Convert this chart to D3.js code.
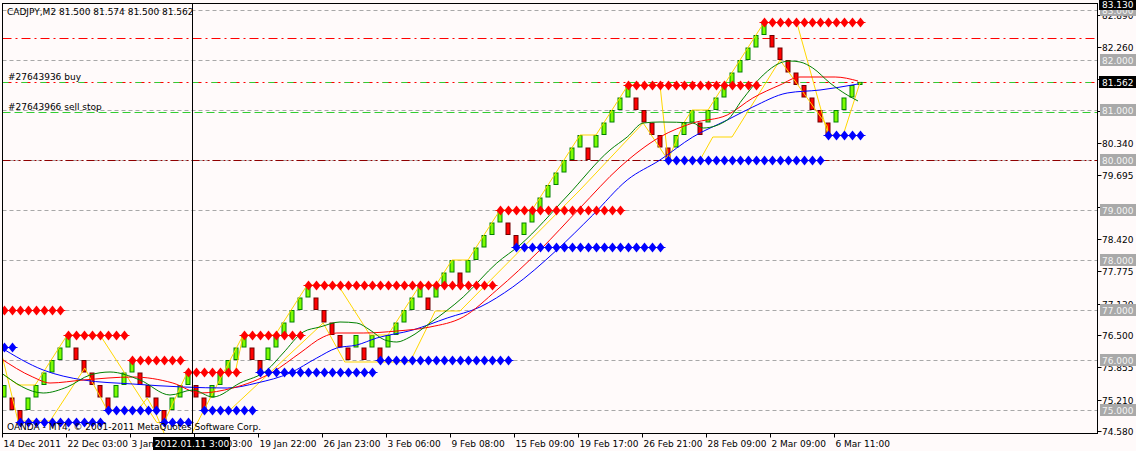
<!DOCTYPE html>
<html>
<head>
<meta charset="utf-8">
<script src="https://cdn.jsdelivr.net/npm/d3@7"></script>
<style>
html, body { margin: 0; padding: 0; background: #fffafa; }
svg { display: block; }
text { font-family: "DejaVu Sans", sans-serif; font-size: 9px; }
</style>
</head>
<body>
<svg id="chart" width="1136" height="451"></svg>
<script>
// CADJPY,M2 offline (renko style) chart, boxes of 0.25

// bar open / close, one box per bar
var barOpen = [
  75.25,75.25,75.00,75.00,75.25,75.50,75.75,76.00,76.25,76.25,
  76.00,75.75,75.50,75.25,75.25,75.50,75.75,75.75,75.50,75.25,
  75.00,75.00,75.25,75.50,75.50,75.25,75.25,75.50,75.75,76.00,
  76.25,76.25,76.00,76.00,76.25,76.50,76.75,77.00,77.25,77.25,
  77.00,76.75,76.50,76.25,76.25,76.25,76.25,76.25,76.25,76.50,
  76.75,77.00,77.25,77.25,77.25,77.50,77.75,77.75,77.75,78.00,
  78.25,78.50,78.75,78.75,78.50,78.50,78.75,79.00,79.25,79.50,
  79.75,80.00,80.25,80.25,80.25,80.50,80.75,81.00,81.25,81.25,
  81.00,80.75,80.50,80.25,80.25,80.50,80.75,80.75,80.75,81.00,
  81.25,81.50,81.75,82.00,82.25,82.50,82.50,82.25,82.00,81.75,
  81.50,81.25,81.00,80.75,80.75,81.00,81.25,81.50
];
var barClose = [
  75.50,75.00,74.75,75.25,75.50,75.75,76.00,76.25,76.50,76.00,
  75.75,75.50,75.25,75.00,75.50,75.75,76.00,75.50,75.25,75.00,
  74.75,75.25,75.50,75.75,75.25,75.00,75.50,75.75,76.00,76.25,
  76.50,76.00,75.75,76.25,76.50,76.75,77.00,77.25,77.50,77.00,
  76.75,76.50,76.25,76.00,76.50,76.00,76.50,76.00,76.50,76.75,
  77.00,77.25,77.50,77.00,77.50,77.75,78.00,77.50,78.00,78.25,
  78.50,78.75,79.00,78.50,78.25,78.75,79.00,79.25,79.50,79.75,
  80.00,80.25,80.50,80.00,80.50,80.75,81.00,81.25,81.50,81.00,
  80.75,80.50,80.25,80.00,80.50,80.75,81.00,80.50,81.00,81.25,
  81.50,81.75,82.00,82.25,82.50,82.75,82.25,82.00,81.75,81.50,
  81.25,81.00,80.75,80.50,81.00,81.25,81.50,81.562
];

// resistance (red) and support (blue) dotted levels: price, first bar, last bar
var redRowPrice = [77.00, 76.50, 76.00, 75.75, 76.50, 77.50, 79.00, 81.50, 82.75];
var redRowFrom  = [0, 8, 16, 23, 30, 38, 62, 78, 95];
var redRowTo    = [7, 15, 22, 29, 37, 61, 77, 94, 107];
var blueRowPrice = [76.25, 74.75, 75.00, 74.75, 75.00, 75.75, 76.00, 78.25, 80.00, 80.50];
var blueRowFrom  = [0, 2, 13, 20, 25, 32, 47, 64, 83, 103];
var blueRowTo    = [1, 12, 19, 23, 31, 46, 63, 82, 102, 107];

// moving averages, read as [bar, price]
var maBlue = [[-0.5,76.26],[4.9,75.80],[9.9,75.60],[16.1,75.52],[22.4,75.46],[27.9,75.44],
  [31.6,75.54],[35.75,75.74],[39.1,76.04],[41.6,76.24],[44.1,76.30],[46.6,76.44],[51.1,76.60],
  [55.4,76.84],[59.5,77.06],[63.6,77.46],[69.1,78.20],[73.6,78.90],[77.9,79.60],[82,80.00],
  [86.1,80.46],[90.4,80.80],[93.6,81.06],[97.9,81.34],[102,81.40],[106.75,81.52]];
var maRed = [[-0.5,76.04],[3.6,75.66],[5.75,75.54],[9.9,75.60],[16.1,75.66],[21.1,75.54],
  [24.5,75.34],[28.6,75.44],[33.6,75.76],[37,76.14],[39.9,76.46],[41.6,76.54],[44.9,76.54],
  [49.1,76.58],[53.25,76.66],[57.4,76.86],[61.6,77.40],[67,78.20],[72,79.04],[77,79.86],
  [82,80.46],[86.1,80.74],[90.4,80.90],[93.6,81.24],[97,81.50],[99.5,81.66],[103.9,81.66],
  [106.75,81.58]];
var maGreen = [[-0.5,75.76],[4.9,75.34],[7.9,75.46],[10.75,75.70],[13.25,75.76],[17,75.60],
  [20.75,75.30],[23.6,75.40],[26.1,75.26],[29.5,75.54],[32.9,75.80],[34.9,76.14],[37.4,76.56],
  [39.5,76.66],[42,76.76],[44.1,76.74],[45.75,76.60],[47.6,76.40],[49.1,76.36],[50.75,76.46],
  [53.25,76.74],[57.4,77.26],[61.6,77.94],[64.5,78.30],[70.4,79.28],[75.75,80.20],[77.9,80.46],
  [79.9,80.74],[82,80.76],[86.1,80.74],[87.4,80.64],[90.4,80.80],[92.25,81.20],[94.9,81.70],
  [97,81.94],[98.25,81.98],[99.5,81.96],[101.1,81.84],[103.25,81.54],[105.4,81.30],[106.75,81.18]];

// zigzag lines (yellow), [bar, price]
var zigA = [[-0.5,75.76],[1.75,75.50],[3.9,75.50],[7.9,76.50],[12,76.50],[19.1,74.75],[20,74.75],
  [22.9,75.75],[28.9,75.75],[29.9,76.50],[33.9,76.50],[37.9,77.50],[41.75,77.50],[45.75,76.50],
  [48,76.50],[52,77.50],[54,77.50],[56,78.00],[58,78.00],[62,79.00],[66,79.00],[68,79.50],
  [72,80.50],[74,80.50],[78,81.50],[82,81.50],[83,80.00],[85,80.75],[86,81.00],[88,81.00],
  [95,82.75],[99.1,82.75],[103,80.50],[104.9,80.50],[107,81.55]];
var zigB = [[-0.5,76.26],[1.75,74.78],[5.75,74.78],[10.1,75.84],[12.9,75.00],[16.75,75.00],
  [17.9,75.24],[18.9,74.96],[21,74.16],[22.25,74.16],[29.9,76.50]];
var zigC = [[24.9,75.00],[28.25,75.00],[39.9,76.74],[42.6,75.96],[50.75,75.96],[53.9,76.98],
  [57,76.98],[72,79.40],[79.9,80.74],[83,80.00],[87,80.00],[88.6,80.46],[91,80.46],[97,82.00],
  [102.9,80.68],[103,80.50]];

// horizontal levels
var gridLevels = [83, 82, 81, 80, 79, 78, 77, 76, 75];
var takeLevel = 82.435;
var buyLevel = 81.562;
var sellStopLevel = 80.96;
var stopLevel = 80.00;

// price scale labels
var scaleLabels = [82.890, 82.260, 81.615, 80.985, 80.340, 79.695, 79.050, 78.420, 77.775,
  77.130, 76.500, 75.855, 75.210, 74.580];
var scaleTop = 83.130;
var lastPrice = 81.562;

// time scale
var timeLabels = ["14 Dec 2011","22 Dec 03:00","3 Jan 19:00","11 Jan 03:00","19 Jan 22:00",
  "26 Jan 23:00","3 Feb 06:00","9 Feb 08:00","15 Feb 09:00","19 Feb 17:00","26 Feb 21:00",
  "28 Feb 09:00","2 Mar 09:00","6 Mar 11:00"];
var timeTickBars = [-0.25,7.75,15.75,23.75,31.75,39.75,47.75,55.75,63.75,71.75,79.75,87.75,95.75,103.75];
var crossBar = 23.56;
var crossLabel = "2012.01.11 3:00";

var plotL = 2.5, plotR = 1097.5, plotT = 3.5, plotB = 433.5;

var x = d3.scaleLinear().domain([0, 107]).range([4, 860]);
var y = d3.scaleLinear().domain([74.58, 83.13]).range([431, 3.5]);

var svg = d3.select("#chart");
svg.append("rect").attr("width", 1136).attr("height", 451).attr("fill", "#fffafa");

svg.append("defs").append("clipPath").attr("id", "plot")
  .append("rect").attr("x", plotL).attr("y", plotT).attr("width", plotR - plotL).attr("height", plotB - plotT);

var plot = svg.append("g").attr("clip-path", "url(#plot)");

// grid
plot.append("g").selectAll("line").data(gridLevels).enter().append("line")
  .attr("x1", plotL).attr("x2", plotR)
  .attr("y1", function(d) { return Math.round(y(d)) + 0.5; })
  .attr("y2", function(d) { return Math.round(y(d)) + 0.5; })
  .attr("stroke", "#a8a8a8").attr("stroke-dasharray", "4,3");

function hline(level, color, dash, offset) {
  var yy = Math.round(y(level)) + 0.5;
  plot.append("line").attr("x1", plotL).attr("x2", plotR).attr("y1", yy).attr("y2", yy)
    .attr("stroke", color).attr("stroke-dasharray", dash).attr("stroke-dashoffset", offset || 0);
}
hline(takeLevel, "#ff0000", "9,4,2,4");
hline(stopLevel, "#900000", "8,3,2,3,2,3");
hline(sellStopLevel, "#32cd32", "8,4");
hline(buyLevel, "#ff0000", "9,4,2,4");
hline(buyLevel, "#32cd32", "6,13", 0);

// bars
plot.append("g").selectAll("rect").data(barClose).enter().append("rect")
  .attr("x", function(d, i) { return Math.round(x(i)) - 2; })
  .attr("y", function(d, i) { return y(Math.max(d, barOpen[i])) + 0.5; })
  .attr("width", 4)
  .attr("height", function(d, i) { return Math.max(1, Math.abs(y(d) - y(barOpen[i])) - 1); })
  .attr("fill", function(d, i) { return d >= barOpen[i] ? "#7cfc00" : "#ff0000"; })
  .attr("stroke", function(d, i) { return d >= barOpen[i] ? "#008000" : "#700000"; })
  .attr("stroke-width", 1);

var curve = d3.line().x(function(d) { return x(d[0]); }).y(function(d) { return y(d[1]); });
var smooth = d3.line().x(function(d) { return x(d[0]); }).y(function(d) { return y(d[1]); })
  .curve(d3.curveMonotoneX);

[zigA, zigB, zigC].forEach(function(z) {
  plot.append("path").attr("d", curve(z)).attr("fill", "none").attr("stroke", "#ffd700").attr("stroke-width", 1);
});
plot.append("path").attr("d", smooth(maBlue)).attr("fill", "none").attr("stroke", "#0000ff");
plot.append("path").attr("d", smooth(maRed)).attr("fill", "none").attr("stroke", "#ff0000");
plot.append("path").attr("d", smooth(maGreen)).attr("fill", "none").attr("stroke", "#008000");

// dotted levels
function diamondRows(prices, from, to, color) {
  var pts = [];
  prices.forEach(function(p, k) {
    for (var i = from[k]; i <= to[k]; i++) pts.push([i, p]);
  });
  var g = plot.append("g");
  g.selectAll("line").data(pts).enter().append("line")
    .attr("x1", function(d) { return Math.round(x(d[0])) - 4.5; })
    .attr("x2", function(d) { return Math.round(x(d[0])) + 5.5; })
    .attr("y1", function(d) { return Math.round(y(d[1])) + 0.5; })
    .attr("y2", function(d) { return Math.round(y(d[1])) + 0.5; })
    .attr("stroke", color);
  g.selectAll("path").data(pts).enter().append("path")
    .attr("transform", function(d) { return "translate(" + (Math.round(x(d[0])) + 0.5) + "," + (Math.round(y(d[1])) + 0.5) + ")"; })
    .attr("d", "M0,-5L4,0L0,5L-4,0Z")
    .attr("fill", color);
}
diamondRows(redRowPrice, redRowFrom, redRowTo, "#ff0000");
diamondRows(blueRowPrice, blueRowFrom, blueRowTo, "#0000ff");

// crosshair vertical line
svg.append("line").attr("x1", Math.round(x(crossBar)) + 0.5).attr("x2", Math.round(x(crossBar)) + 0.5)
  .attr("y1", plotT).attr("y2", plotB).attr("stroke", "#000");

// texts in plot
svg.append("text").attr("x", 7).attr("y", 15).attr("fill", "#000").text("CADJPY,M2  81.500 81.574 81.500 81.562");
svg.append("text").attr("x", 8).attr("y", 80).attr("fill", "#000").text("#27643936 buy");
svg.append("text").attr("x", 8).attr("y", 110).attr("fill", "#000").text("#27643966 sell stop");
svg.append("text").attr("x", 7).attr("y", 430).attr("fill", "#000").text("OANDA - MT4, \u00a9 2001-2011 MetaQuotes Software Corp.");

// frame
svg.append("rect").attr("x", plotL).attr("y", plotT).attr("width", plotR - plotL).attr("height", plotB - plotT)
  .attr("fill", "none").attr("stroke", "#000");

// price scale
var ax = svg.append("g");
scaleLabels.forEach(function(v) {
  var yy = Math.round(y(v)) + 0.5;
  ax.append("line").attr("x1", plotR).attr("x2", plotR + 4).attr("y1", yy).attr("y2", yy).attr("stroke", "#000");
  ax.append("text").attr("x", 1102).attr("y", yy + 3.5).attr("fill", "#000").text(d3.format(".3f")(v));
});
gridLevels.forEach(function(v) {
  var yy = Math.round(y(v));
  ax.append("rect").attr("x", 1100).attr("y", yy - 6).attr("width", 36).attr("height", 12).attr("fill", "#a9a9a9");
  ax.append("text").attr("x", 1102).attr("y", yy + 3.5).attr("fill", "#f4f4f4").text(d3.format(".3f")(v));
});
[lastPrice, scaleTop].forEach(function(v) {
  var yy = Math.round(y(v));
  ax.append("rect").attr("x", 1099).attr("y", yy - 6).attr("width", 37).attr("height", 12).attr("fill", "#000");
  ax.append("text").attr("x", 1102).attr("y", yy + 3.5).attr("fill", "#fff").text(d3.format(".3f")(v));
});

// time scale
var tx = svg.append("g");
timeTickBars.forEach(function(b, k) {
  var xx = Math.round(x(b)) + 0.5;
  tx.append("line").attr("x1", xx).attr("x2", xx).attr("y1", plotB).attr("y2", plotB + 4).attr("stroke", "#000");
  tx.append("text").attr("x", xx + 1).attr("y", 447).attr("fill", "#000").text(timeLabels[k]);
});
var cx = Math.round(x(crossBar));
tx.append("rect").attr("x", cx - 39).attr("y", 437).attr("width", 77).attr("height", 13).attr("fill", "#000");
tx.append("text").attr("x", cx).attr("y", 447).attr("text-anchor", "middle").attr("fill", "#fff").text(crossLabel);
</script>
</body>
</html>
